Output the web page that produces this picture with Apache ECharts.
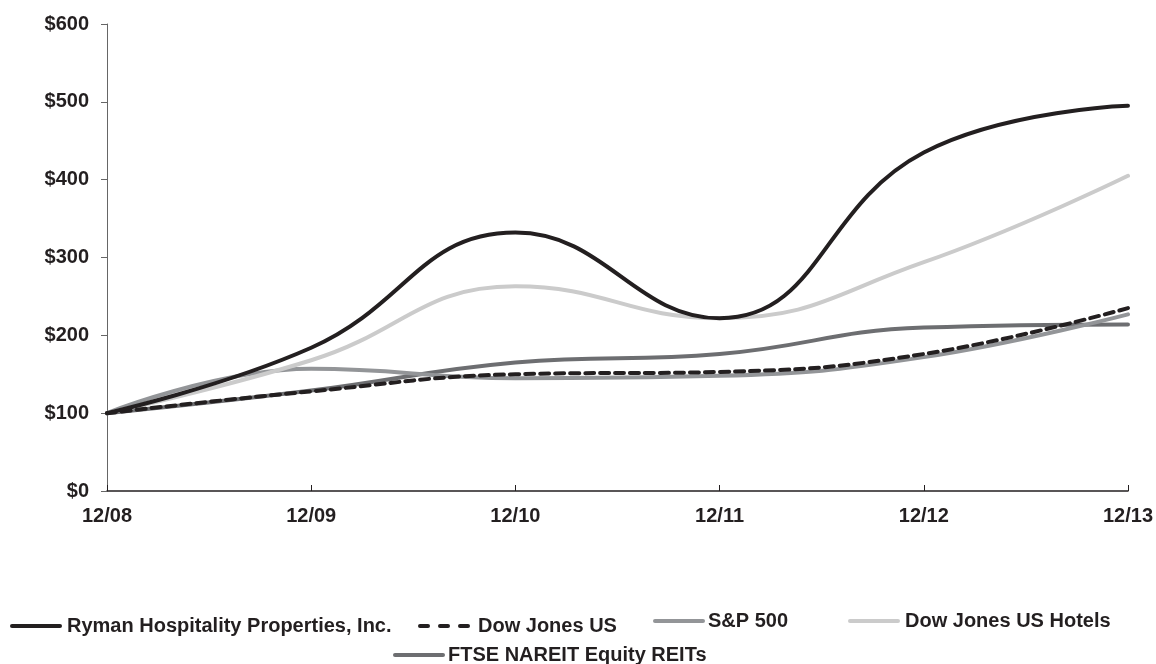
<!DOCTYPE html>
<html>
<head>
<meta charset="utf-8">
<script src="https://cdn.jsdelivr.net/npm/echarts@6/dist/echarts.min.js"></script>
<style>
html,body{margin:0;padding:0;background:#fff;}
#chart{width:1156px;height:664px;}
</style>
</head>
<body>
<div id="chart"></div>
<script>
const categories = ['12/08', '12/09', '12/10', '12/11', '12/12', '12/13'];
const ryman = [100, 184, 332, 222, 435, 495];
const dowJonesUS = [100, 128, 150, 153, 176, 235];
const sp500 = [100, 157, 145, 148, 172, 227];
const djHotels = [100, 168, 263, 222, 294, 405];
const ftseNareit = [100, 129, 165, 176, 210, 214];
const yTicks = [0, 100, 200, 300, 400, 500, 600];

const FONT = '"Liberation Sans", Arial, sans-serif';
const TXT = '#231f20';
const lineIcon = 'path://M2,0 L50,0 A2,2 0 0 1 50,4 L2,4 A2,2 0 0 1 2,0 Z';
const dashIcon = 'path://M2,0 L10,0 A2,2 0 0 1 10,4 L2,4 A2,2 0 0 1 2,0 Z M22,0 L30,0 A2,2 0 0 1 30,4 L22,4 A2,2 0 0 1 22,0 Z M42,0 L50,0 A2,2 0 0 1 50,4 L42,4 A2,2 0 0 1 42,0 Z';

function mkSeries(name, data, color, width, type) {
  return {
    name: name, type: 'line', data: data, smooth: 0.45, symbol: 'none',
    lineStyle: { color: color, width: width, type: type || 'solid', cap: 'round' },
    itemStyle: { color: color }
  };
}
function mkLegend(name, left, top, icon, gapAdj) {
  return {
    data: [{ name: name, icon: icon }], left: left, top: top,
    itemWidth: 52, itemHeight: 5, itemGap: 0, padding: 0,
    textStyle: { fontFamily: FONT, fontWeight: 'bold', fontSize: 20, lineHeight: 20, color: TXT, padding: [0, 0, 0, gapAdj] }
  };
}

const chart = echarts.init(document.getElementById('chart'));
chart.setOption({
  animation: false,
  grid: { left: 107, right: 25, top: 24, bottom: 173 },
  xAxis: {
    type: 'category', data: categories, boundaryGap: false,
    axisLine: { lineStyle: { color: '#231f20', width: 1.5 } },
    axisTick: { inside: true, length: 6, lineStyle: { color: '#231f20' } },
    axisLabel: { fontFamily: FONT, fontWeight: 'bold', fontSize: 20, color: TXT, margin: 15 }
  },
  yAxis: {
    type: 'value', min: 0, max: 600, interval: 100,
    axisLine: { show: true, lineStyle: { color: '#666', width: 1 } },
    axisTick: { show: true, length: 6, lineStyle: { color: '#666' } },
    splitLine: { show: false },
    axisLabel: { fontFamily: FONT, fontWeight: 'bold', fontSize: 20, color: TXT, margin: 18,
      formatter: v => yTicks.includes(v) ? '$' + v : '' }
  },
  legend: [
    mkLegend('Ryman Hospitality Properties, Inc.', 10, 616, lineIcon, 0),
    mkLegend('Dow Jones US', 418, 616, dashIcon, 3),
    mkLegend('S&P 500', 653, 611, lineIcon, -2),
    mkLegend('Dow Jones US Hotels', 848, 611, lineIcon, 0),
    mkLegend('FTSE NAREIT Equity REITs', 393, 645, lineIcon, -2)
  ],
  series: [
    mkSeries('FTSE NAREIT Equity REITs', ftseNareit, '#6d6e71', 4),
    mkSeries('S&P 500', sp500, '#939598', 4),
    mkSeries('Dow Jones US Hotels', djHotels, '#cbcbcb', 4),
    mkSeries('Dow Jones US', dowJonesUS, '#231f20', 4, [9, 6]),
    mkSeries('Ryman Hospitality Properties, Inc.', ryman, '#231f20', 4)
  ]
});
</script>
</body>
</html>
